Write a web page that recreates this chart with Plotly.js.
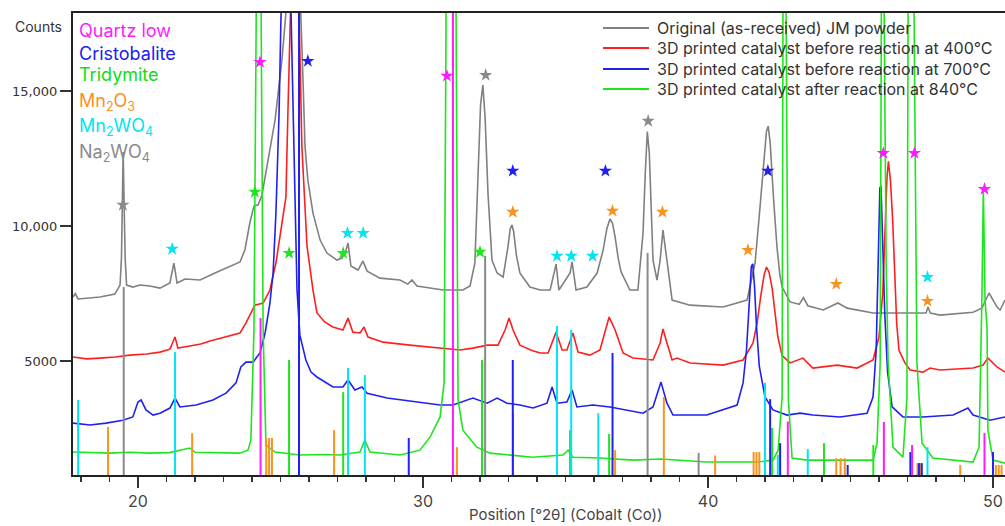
<!DOCTYPE html>
<html>
<head>
<meta charset="utf-8">
<script src="https://cdn.plot.ly/plotly-3.0.1.min.js"></script>
<style>html,body{margin:0;padding:0;background:#fff;}#chart{width:1005px;height:526px;}</style>
</head>
<body>
<div id="chart"></div>
<script>
// ---------- Measured XRD patterns (2θ, counts) ----------
const grayX = [17.72,17.8,17.9,18.67,19.19,19.37,19.42,19.45,19.48,19.51,19.55,19.6,19.82,20.07,20.42,20.77,21.12,21.26,21.37,21.65,22.18,22.7,23.23,23.58,23.75,23.93,24.07,24.21,24.35,24.56,24.81,25.05,25.19,25.4,25.71,25.79,25.86,25.96,26.14,26.39,26.63,26.98,27.16,27.3,27.37,27.47,27.72,27.89,28.04,28.49,29.19,29.47,29.61,29.79,30.7,31.4,31.65,31.82,31.93,32.02,32.1,32.18,32.28,32.36,32.42,32.6,32.81,32.98,33.06,33.12,33.18,33.28,33.4,33.75,34.11,34.46,34.6,34.67,34.77,35.16,35.23,35.37,35.75,36.11,36.32,36.45,36.56,36.65,36.74,36.85,36.95,37.26,37.54,37.72,37.8,37.87,37.94,38.0,38.07,38.21,38.32,38.42,38.56,38.74,39.37,40.53,41.37,41.65,41.8,41.93,42.05,42.11,42.18,42.3,42.42,42.52,42.6,42.88,43.2,43.35,43.5,44.04,44.56,44.88,45.79,46.98,47.65,47.72,47.8,48.14,49.3,49.61,49.86,50.14,50.25,50.42];
const grayY = [7370,7500,7300,7370,7480,7815,8800,11000,12740,11000,8800,7815,7740,7815,7780,7700,7890,8630,7890,8040,8000,8260,8520,8670,9110,10150,10740,10780,11150,12440,13930,16150,17890,24000,17890,15410,12960,11700,10480,9480,9000,8740,8815,9110,9370,8520,8370,8700,8330,8070,8000,7850,8000,7780,7630,7630,7780,8630,11700,14500,15220,14000,11220,9500,8740,8260,8110,9220,9900,10040,9800,8900,8260,7740,7630,7630,8260,8590,7630,8260,8670,7630,7740,8260,9110,9900,10260,10100,9600,8800,8300,7630,7630,9740,12000,13500,12700,10500,8740,8000,8740,9850,8740,7260,7070,7000,7260,8630,10400,12200,13500,13700,13100,11000,9220,8200,7740,7190,7100,7350,7050,6890,7150,6960,6780,6780,6780,7000,6780,6700,6810,6960,7520,7000,6890,7260];

const redX = [17.72,18.2,18.67,19.2,19.72,20.3,20.77,21.12,21.3,21.4,21.82,22.2,22.53,23.23,23.58,23.79,24.1,24.39,24.63,24.84,25.02,25.19,25.26,25.33,25.5,25.65,25.75,25.93,26.14,26.28,26.55,26.84,27.19,27.37,27.54,27.79,27.93,28.07,28.6,29.54,30.6,31.3,31.75,32.25,32.63,32.88,33.02,33.16,33.4,33.8,34.11,34.39,34.67,34.88,35.05,35.26,35.44,35.86,36.21,36.39,36.53,36.74,37.02,37.37,38.07,38.32,38.42,38.56,38.74,38.91,39.37,40.53,41.23,41.58,41.72,41.85,41.97,42.05,42.14,42.25,42.35,42.45,42.6,42.88,43.33,43.68,44.53,45.23,45.79,46.0,46.13,46.21,46.28,46.33,46.4,46.48,46.56,46.62,46.7,46.91,47.09,47.54,47.79,48.14,49.3,49.65,49.82,50.14,50.42];
const redY = [5150,5080,5110,5150,5220,5260,5330,5440,5890,5480,5560,5630,5740,5930,6040,6410,7070,7150,7630,8630,9850,11070,14190,17890,24000,17890,12960,9260,7630,6780,6450,6260,6150,6590,6070,6040,6260,5890,5700,5590,5480,5410,5480,5590,5590,6150,6590,6150,5590,5400,5300,5300,6070,5410,5410,6040,5330,5220,5410,6150,6630,6150,5300,5110,5040,5670,6190,5670,5040,5110,4930,4850,5040,5670,6400,7400,8200,8480,8300,7700,6800,5900,5200,4930,5110,4740,4850,4740,5040,5890,7500,9600,11800,12400,11700,10200,8000,6400,5400,4930,4670,4590,4740,4670,4740,4850,5110,4780,4590];

const blueX = [17.72,18.32,18.88,19.47,19.82,20.0,20.11,20.28,20.53,20.77,21.12,21.3,21.47,22.04,22.63,23.09,23.44,23.61,23.79,24.04,24.28,24.46,24.63,24.74,24.84,24.95,25.02,25.2,25.37,25.47,25.58,25.68,25.89,26.07,26.28,26.84,27.19,27.37,27.61,27.86,28.04,28.74,29.79,30.6,31.05,31.75,32.25,32.6,32.95,33.4,33.86,34.35,34.53,34.7,35.05,35.23,35.4,35.96,36.56,37.16,37.72,38.07,38.35,38.56,38.77,39.96,40.53,41.02,41.23,41.35,41.45,41.52,41.57,41.63,41.7,41.8,42.0,42.28,42.77,43.23,43.68,44.63,45.58,45.79,45.9,45.98,46.03,46.07,46.12,46.2,46.3,46.46,46.84,47.54,48.6,49.12,49.3,49.89,50.42];
const blueY = [2700,2630,2700,2810,2930,3480,3560,3190,3000,3070,3260,3630,3300,3370,3560,3810,4190,4780,4960,4960,5300,6040,7150,8260,10480,14190,17890,24000,17890,12810,7630,5960,5040,4590,4410,4040,4040,4300,3930,4040,3810,3630,3480,3370,3370,3630,3440,3630,3440,3370,3260,3440,4040,3440,3480,3930,3300,3370,3300,3190,3070,3300,4220,3440,3000,3000,3190,3370,4190,5400,7200,8500,8600,7800,6300,4800,3670,3190,3000,3070,3000,2930,3070,3670,5400,8600,11400,11500,9800,6800,4600,3300,2930,2930,3000,3260,3000,2810,2930];

const greenX = [17.72,18.3,19.02,19.7,20.42,21.1,21.82,22.0,22.7,23.58,23.86,23.96,24.07,24.14,24.23,24.32,24.39,24.49,24.81,25.68,26.5,27.09,27.79,27.96,28.14,29.19,29.89,30.25,30.6,30.74,30.81,30.98,31.16,31.23,31.4,31.89,32.35,33.86,34.91,35.09,35.26,36.21,37.37,38.32,39.96,41.72,42.28,42.46,42.6,42.63,42.68,42.74,42.79,42.82,42.95,43.47,45.79,45.93,46.04,46.07,46.12,46.18,46.25,46.32,46.49,46.84,46.98,47.02,47.12,47.23,47.33,47.51,47.89,49.3,49.51,49.61,49.66,49.72,49.79,49.82,50.0,50.42];
const greenY = [1630,1600,1590,1620,1590,1610,1780,1620,1600,1590,1700,2070,6150,17890,30000,17890,6150,1890,1630,1520,1540,1520,1630,2070,1630,1520,1700,2190,2930,4190,17890,30000,17890,3560,2440,1810,1590,1440,1520,1700,1440,1410,1330,1370,1260,1260,1330,1700,3670,17890,30000,17890,9040,3560,1410,1330,1330,1960,4930,17890,30000,17890,8630,4930,1810,1440,3670,17890,30000,17890,4930,1960,1410,1260,1810,7370,11410,7260,6260,2440,1330,1220];

const seriesNames = ["Original (as-received) JM powder","3D printed catalyst before reaction at 400°C","3D printed catalyst before reaction at 700°C","3D printed catalyst after reaction at 840°C"];

// ---------- Reference patterns (stick positions, stick tops) ----------
const quartzStickX = [24.3,31.05,42.8,46.17,47.16,49.7];
const quartzStickH = [6590,20000,2760,2740,1890,2330];
const cristoStickX = [25.65,29.5,33.15,36.65,42.18,42.53,44.9,47.1,47.4,47.5,50.0];
const cristoStickH = [20000,2150,5040,5300,3590,1960,1150,1630,1220,1220,1630];
const tridyStickX = [25.3,27.2,32.07,35.16,36.53,42.25,44.07,45.8];
const tridyStickH = [5040,3850,5040,2440,2300,2520,1960,1890];
const mn2o3StickX = [18.95,21.9,24.5,24.6,24.7,26.88,31.19,33.16,36.74,38.45,40.25,41.6,41.7,41.8,44.5,44.65,44.8,47.35,47.45,48.85,50.1,50.2,50.3];
const mn2o3StickH = [2560,2330,2150,2150,2150,2440,1810,3070,1700,3670,1500,1630,1630,1630,1400,1400,1400,1220,1220,1150,1150,1150,1150];
const mn2wo4StickX = [17.9,21.3,27.37,27.96,34.7,35.2,36.15,42.0,42.45,43.5,47.7];
const mn2wo4StickH = [3560,5330,4740,4480,6300,6150,3070,4190,1520,1740,1810];
const na2wo4StickX = [19.5,32.18,37.88,39.67];
const na2wo4StickH = [7740,8900,9000,1600];

// ---------- Phase markers (stars) ----------
const quartzStarX = [24.28,30.84,46.15,47.24,49.7];
const quartzStarY = [16070,15560,12700,12700,11370];
const cristoStarX = [25.96,33.15,36.4,42.1];
const cristoStarY = [16110,12040,12040,12040];
const tridyStarX = [24.1,25.3,27.2,32.0];
const tridyStarY = [11260,9000,9000,9040];
const mn2o3StarX = [33.15,36.65,38.4,41.4,44.5,47.7];
const mn2o3StarY = [10520,10560,10520,9110,7850,7220];
const mn2wo4StarX = [21.2,27.35,27.9,34.7,35.2,35.95,47.7];
const mn2wo4StarY = [9150,9740,9740,8890,8890,8890,8110];
const na2wo4StarX = [19.47,32.2,37.9];
const na2wo4StarY = [10780,15590,13890];

const phaseLabels = ["Quartz low","Cristobalite","Tridymite","Mn<sub>2</sub>O<sub>3</sub>","Mn<sub>2</sub>WO<sub>4</sub>","Na<sub>2</sub>WO<sub>4</sub>"];
const yTickVals = [5000,10000,15000];
const yTickText = ["5000","10,000","15,000"];
const xTickVals = [20,30,40,50];

// ---------- styling ----------
const C = {gray:"#808080", red:"#ff1f1f", blue:"#2020f0", green:"#1ee61e",
           mag:"#ff1aff", cyan:"#00e5f0", orange:"#f7931e", nagray:"#8a8a8a"};
const yMin = 780, yMax = 17890;

function sticks(xs, hs, color){
  const x = [], y = [];
  xs.forEach((v,i)=>{ x.push(v,v,null); y.push(yMin,hs[i],null); });
  return {x, y, type:"scatter", mode:"lines", line:{color, width:2}, showlegend:false, hoverinfo:"skip"};
}
function stars(xs, ys, color){
  return {x:xs, y:ys, type:"scatter", mode:"markers", marker:{symbol:"star", size:10, color, line:{width:0}}, showlegend:false, hoverinfo:"skip"};
}
function spec(xs, ys, color, name){
  return {x:xs, y:ys, type:"scatter", mode:"lines", name, showlegend:false, line:{color, width:1.6}};
}

const specColors = [C.gray, C.red, C.blue, C.green];
const traces = [
  spec(grayX, grayY, specColors[0], seriesNames[0]),
  spec(redX, redY, specColors[1], seriesNames[1]),
  spec(blueX, blueY, specColors[2], seriesNames[2]),
  spec(greenX, greenY, specColors[3], seriesNames[3]),
  sticks(mn2o3StickX, mn2o3StickH, C.orange),
  sticks(na2wo4StickX, na2wo4StickH, C.nagray),
  sticks(tridyStickX, tridyStickH, C.green),
  sticks(cristoStickX, cristoStickH, C.blue),
  sticks(mn2wo4StickX, mn2wo4StickH, C.cyan),
  sticks(quartzStickX, quartzStickH, C.mag),
  stars(quartzStarX, quartzStarY, C.mag),
  stars(cristoStarX, cristoStarY, C.blue),
  stars(tridyStarX, tridyStarY, C.green),
  stars(mn2o3StarX, mn2o3StarY, C.orange),
  stars(mn2wo4StarX, mn2wo4StarY, C.cyan),
  stars(na2wo4StarX, na2wo4StarY, C.nagray)
];

const labelColors = [C.mag, C.blue, "#11dd11", C.orange, C.cyan, C.nagray];
const labelY = [0.963, 0.913, 0.866, 0.808, 0.753, 0.697];
const annotations = phaseLabels.map((t,i)=>({
  text:t, xref:"paper", yref:"paper", x:0.004, y:labelY[i], xanchor:"left", yanchor:"middle",
  showarrow:false, font:{family:"Inter", size:18, color:labelColors[i]}
}));
annotations.push({text:"Counts", xref:"paper", yref:"paper", x:-0.037, y:0.97, xanchor:"center", yanchor:"middle",
  showarrow:false, font:{family:"Inter", size:14, color:"#333"}});
annotations.push({text:"Position [°2θ] (Cobalt (Co))", xref:"paper", yref:"paper", x:0.528, y:-0.085, xanchor:"center", yanchor:"middle",
  showarrow:false, font:{family:"Inter", size:15, color:"#444"}});

// custom legend (line samples + text)
const legendRowY = [0.9675, 0.9242, 0.8788, 0.8355];
const shapes = [];
seriesNames.forEach((n,i)=>{
  shapes.push({type:"line", xref:"paper", yref:"paper", x0:0.5687, x1:0.618, y0:legendRowY[i], y1:legendRowY[i],
               line:{color:specColors[i], width:2}});
  annotations.push({text:n, xref:"paper", yref:"paper", x:0.6245, y:legendRowY[i], xanchor:"left", yanchor:"middle",
    showarrow:false, font:{family:"Inter", size:16, color:"#333"}});
});

const layout = {
  width:1005, height:526,
  margin:{l:73, r:0, t:13, b:51},
  paper_bgcolor:"#fff", plot_bgcolor:"#fff",
  showlegend:false,
  xaxis:{range:[17.72,50.42], tickvals:xTickVals, ticks:"outside", ticklen:11, tickwidth:1.5, tickcolor:"#333",
         minor:{dtick:1, tick0:0, ticks:"outside", ticklen:5, tickwidth:1.2, tickcolor:"#333"},
         showline:true, linecolor:"#222", linewidth:2, mirror:true, showgrid:false, zeroline:false,
         tickfont:{family:"Inter", size:16, color:"#444"}},
  yaxis:{range:[yMin,yMax], tickvals:yTickVals, ticktext:yTickText, ticks:"outside", ticklen:11, tickwidth:1.5, tickcolor:"#333",
         showline:true, linecolor:"#222", linewidth:2, showgrid:false, zeroline:false,
         tickfont:{family:"DejaVu Sans", size:13, color:"#333"}},
  shapes,
  annotations
};

Plotly.newPlot("chart", traces, layout, {staticPlot:true, displayModeBar:false});
</script>
</body>
</html>
